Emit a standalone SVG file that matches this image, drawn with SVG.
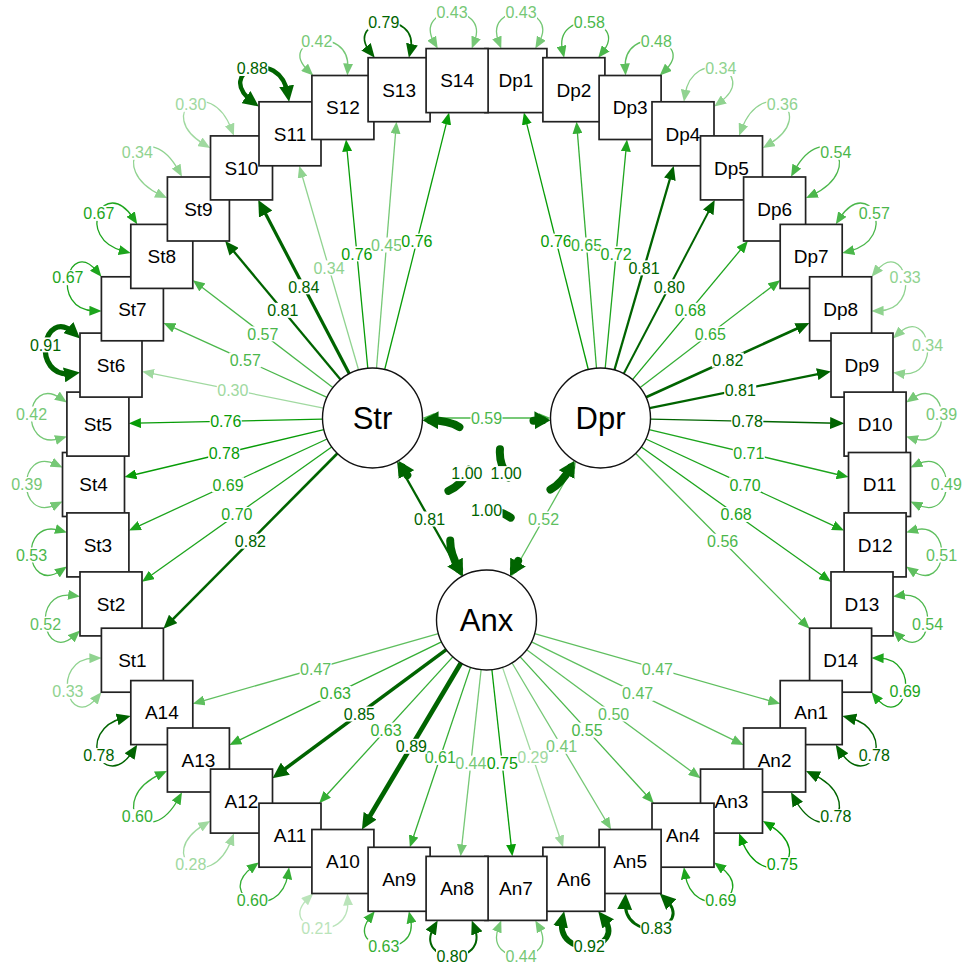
<svg xmlns="http://www.w3.org/2000/svg" width="965" height="966" viewBox="0 0 965 966">
<style>
.e{fill:none;stroke-width:1.3}
.d{stroke:#006400}
.k21{stroke:#BAE4BA}.k29{stroke:#A0D9A0}.k34{stroke:#90D390}.k42{stroke:#76C876}.k49{stroke:#5FBF5F}.k55{stroke:#4BB74B}.k62{stroke:#34AE34}.k69{stroke:#1DA51D}.k76{stroke:#079C07}
.f21{fill:#BAE4BA}.f29{fill:#A0D9A0}.f34{fill:#90D390}.f42{fill:#76C876}.f49{fill:#5FBF5F}.f55{fill:#4BB74B}.f62{fill:#34AE34}.f69{fill:#1DA51D}.f76{fill:#079C07}.fd{fill:#006400}
.lab rect{fill:#fff}
.lab text{font-family:"Liberation Sans",Arial,sans-serif;font-size:16px;text-anchor:middle}
.v{fill:none;stroke:#006400;stroke-width:8;stroke-dasharray:30 48;stroke-linecap:round}
.b{fill:#fff;stroke:#222;stroke-width:1.7}
.n{font-family:"Liberation Sans",Arial,sans-serif;font-size:19px;text-anchor:middle;fill:#000}
.lv{fill:#fff;stroke:#111;stroke-width:1.4}
.lt{font-family:"Liberation Sans",Arial,sans-serif;font-size:31px;text-anchor:middle;fill:#000}
</style>
<defs>
<marker id="m21" markerUnits="userSpaceOnUse" orient="auto-start-reverse" refX="5" refY="5" markerWidth="12" markerHeight="10"><path d="M0,0L12,5L0,10z" fill="#BAE4BA"/></marker>
<marker id="m29" markerUnits="userSpaceOnUse" orient="auto-start-reverse" refX="5" refY="5" markerWidth="12" markerHeight="10"><path d="M0,0L12,5L0,10z" fill="#A0D9A0"/></marker>
<marker id="m34" markerUnits="userSpaceOnUse" orient="auto-start-reverse" refX="5" refY="5" markerWidth="12" markerHeight="10"><path d="M0,0L12,5L0,10z" fill="#90D390"/></marker>
<marker id="m42" markerUnits="userSpaceOnUse" orient="auto-start-reverse" refX="5" refY="5" markerWidth="12" markerHeight="10"><path d="M0,0L12,5L0,10z" fill="#76C876"/></marker>
<marker id="m49" markerUnits="userSpaceOnUse" orient="auto-start-reverse" refX="5" refY="5" markerWidth="12" markerHeight="10"><path d="M0,0L12,5L0,10z" fill="#5FBF5F"/></marker>
<marker id="m55" markerUnits="userSpaceOnUse" orient="auto-start-reverse" refX="5" refY="5" markerWidth="12" markerHeight="10"><path d="M0,0L12,5L0,10z" fill="#4BB74B"/></marker>
<marker id="m62" markerUnits="userSpaceOnUse" orient="auto-start-reverse" refX="5" refY="5" markerWidth="12" markerHeight="10"><path d="M0,0L12,5L0,10z" fill="#34AE34"/></marker>
<marker id="m69" markerUnits="userSpaceOnUse" orient="auto-start-reverse" refX="5" refY="5" markerWidth="12" markerHeight="10"><path d="M0,0L12,5L0,10z" fill="#1DA51D"/></marker>
<marker id="m76" markerUnits="userSpaceOnUse" orient="auto-start-reverse" refX="5" refY="5" markerWidth="12" markerHeight="10"><path d="M0,0L12,5L0,10z" fill="#079C07"/></marker>
<marker id="md" markerUnits="userSpaceOnUse" orient="auto-start-reverse" refX="7" refY="6" markerWidth="14" markerHeight="12"><path d="M0,0L14,6L0,12z" fill="#006400"/></marker>
<marker id="mL" markerUnits="userSpaceOnUse" orient="auto-start-reverse" refX="9" refY="7.5" markerWidth="16" markerHeight="15"><path d="M0,0L16,7.5L0,15z" fill="#006400"/></marker>
<marker id="mx" markerUnits="userSpaceOnUse" orient="auto-start-reverse" refX="8" refY="9" markerWidth="16" markerHeight="18"><path d="M0,0L16,9L0,18z" fill="#006400"/></marker>
</defs>
<rect width="965" height="966" fill="#fff"/>
<g id="connectors">
<!-- Str loadings -->
<line class="e d" style="stroke-width:2.6" x1="337.3" y1="453.5" x2="168.3" y2="623.9" marker-end="url(#md)"/>
<line class="e k69" x1="331.7" y1="447.0" x2="147.7" y2="577.8" marker-end="url(#m69)"/>
<line class="e k69" x1="327.1" y1="439.0" x2="135.3" y2="527.6" marker-end="url(#m69)"/>
<line class="e k76" x1="323.9" y1="429.6" x2="131.3" y2="475.5" marker-end="url(#m76)"/>
<line class="e k76" x1="322.5" y1="419.1" x2="135.9" y2="423.2" marker-end="url(#m76)"/>
<line class="e k29" x1="323.5" y1="408.1" x2="148.9" y2="372.8" marker-end="url(#m29)"/>
<line class="e k55" x1="327.0" y1="397.3" x2="169.8" y2="325.8" marker-end="url(#m55)"/>
<line class="e k55" x1="332.8" y1="387.6" x2="198.4" y2="284.4" marker-end="url(#m55)"/>
<line class="e d" style="stroke-width:2.3" x1="340.5" y1="379.6" x2="229.6" y2="246.4" marker-end="url(#md)"/>
<line class="e d" style="stroke-width:3.2" x1="349.3" y1="373.7" x2="261.5" y2="206.1" marker-end="url(#mL)"/>
<line class="e k34" x1="358.6" y1="370.0" x2="301.2" y2="172.5" marker-end="url(#m34)"/>
<line class="e k76" x1="367.8" y1="368.2" x2="346.7" y2="146.5" marker-end="url(#m76)"/>
<line class="e k42" x1="376.5" y1="368.2" x2="395.9" y2="128.7" marker-end="url(#m42)"/>
<line class="e k76" x1="384.7" y1="369.5" x2="447.4" y2="119.4" marker-end="url(#m76)"/>
<!-- Dpr loadings -->
<line class="e k76" x1="588.3" y1="369.5" x2="525.6" y2="119.4" marker-end="url(#m76)"/>
<line class="e k62" x1="596.5" y1="368.2" x2="577.1" y2="128.7" marker-end="url(#m62)"/>
<line class="e k69" x1="605.2" y1="368.2" x2="626.3" y2="146.5" marker-end="url(#m69)"/>
<line class="e d" style="stroke-width:2.3" x1="614.4" y1="370.0" x2="671.8" y2="172.5" marker-end="url(#md)"/>
<line class="e d" style="stroke-width:2.0" x1="623.7" y1="373.7" x2="711.5" y2="206.1" marker-end="url(#md)"/>
<line class="e k69" x1="632.5" y1="379.6" x2="743.4" y2="246.4" marker-end="url(#m69)"/>
<line class="e k62" x1="640.2" y1="387.6" x2="774.6" y2="284.4" marker-end="url(#m62)"/>
<line class="e d" style="stroke-width:2.6" x1="646.0" y1="397.3" x2="803.2" y2="325.8" marker-end="url(#md)"/>
<line class="e d" style="stroke-width:2.3" x1="649.5" y1="408.1" x2="824.1" y2="372.8" marker-end="url(#md)"/>
<line class="e d" style="stroke-width:1.4" x1="650.5" y1="419.1" x2="837.1" y2="423.2" marker-end="url(#md)"/>
<line class="e k69" x1="649.1" y1="429.6" x2="841.7" y2="475.5" marker-end="url(#m69)"/>
<line class="e k69" x1="645.9" y1="439.0" x2="837.7" y2="527.6" marker-end="url(#m69)"/>
<line class="e k69" x1="641.3" y1="447.0" x2="825.3" y2="577.8" marker-end="url(#m69)"/>
<line class="e k55" x1="635.7" y1="453.5" x2="804.7" y2="623.9" marker-end="url(#m55)"/>
<!-- Anx loadings -->
<line class="e k49" x1="534.6" y1="633.7" x2="773.5" y2="701.8" marker-end="url(#m49)"/>
<line class="e k49" x1="531.5" y1="641.9" x2="737.3" y2="741.9" marker-end="url(#m49)"/>
<line class="e k49" x1="526.7" y1="649.7" x2="694.9" y2="774.0" marker-end="url(#m49)"/>
<line class="e k55" x1="520.2" y1="656.9" x2="649.1" y2="798.0" marker-end="url(#m55)"/>
<line class="e k42" x1="512.1" y1="663.0" x2="607.5" y2="823.5" marker-end="url(#m42)"/>
<line class="e k29" x1="502.5" y1="667.4" x2="560.9" y2="840.7" marker-end="url(#m29)"/>
<line class="e k76" x1="491.9" y1="669.7" x2="511.6" y2="849.4" marker-end="url(#m76)"/>
<line class="e k42" x1="481.1" y1="669.7" x2="461.4" y2="849.4" marker-end="url(#m42)"/>
<line class="e k62" x1="470.5" y1="667.4" x2="412.1" y2="840.7" marker-end="url(#m62)"/>
<line class="e d" style="stroke-width:4.7" x1="460.9" y1="663.0" x2="365.5" y2="823.5" marker-end="url(#mL)"/>
<line class="e k62" x1="452.8" y1="656.9" x2="323.9" y2="798.0" marker-end="url(#m62)"/>
<line class="e d" style="stroke-width:3.5" x1="446.3" y1="649.7" x2="278.1" y2="774.0" marker-end="url(#mL)"/>
<line class="e k62" x1="441.5" y1="641.9" x2="235.7" y2="741.9" marker-end="url(#m62)"/>
<line class="e k49" x1="438.4" y1="633.7" x2="199.5" y2="701.8" marker-end="url(#m49)"/>
<!-- latent covariances -->
<line class="e k55" x1="429.5" y1="418" x2="543.5" y2="418" marker-start="url(#m55)" marker-end="url(#m55)"/>
<line class="e d" style="stroke-width:2.3" x1="400.5" y1="467.7" x2="458.5" y2="570.3" marker-start="url(#md)" marker-end="url(#md)"/>
<line class="e k49" x1="572.5" y1="467.7" x2="514.5" y2="570.3" marker-start="url(#m49)" marker-end="url(#m49)"/>
<!-- latent variances -->
<path class="v" d="M430.5,420.3C520.5,421.1 446.9,545.9 402.5,467.6" marker-start="url(#mx)" marker-end="url(#mx)"/>
<path class="v" d="M570.5,467.6C526.1,545.9 452.5,421.1 542.5,420.3" marker-start="url(#mx)" marker-end="url(#mx)"/>
<path class="v" d="M459,569C414,491 559,491 514,569" marker-start="url(#mx)" marker-end="url(#mx)"/>
<!-- residual loops -->
<path class="e k49" d="M916.8,464.5C956.5,445.4 956.5,523.6 916.8,504.5" marker-start="url(#m49)" marker-end="url(#m49)"/>
<path class="e k42" d="M911.9,398.5C948.2,373.7 954.8,451.4 912.8,438.5" marker-start="url(#m42)" marker-end="url(#m42)"/>
<path class="e k34" d="M898.1,333.7C930.4,303.8 943.4,380.1 899.9,373.5" marker-start="url(#m34)" marker-end="url(#m34)"/>
<path class="e k34" d="M876.0,271.4C904.7,236.2 923.9,310.1 878.6,310.9" marker-start="url(#m34)" marker-end="url(#m34)"/>
<path class="e k55" d="M839.6,218.3C868.7,174.1 899.7,238.6 849.1,251.3" marker-start="url(#m55)" marker-end="url(#m55)"/>
<path class="e k55" d="M794.4,170.5C824.5,115.8 868.4,168.5 812.3,195.1" marker-start="url(#m55)" marker-end="url(#m55)"/>
<path class="e k34" d="M741.6,129.1C762.8,73.9 819.9,113.0 768.8,144.4" marker-start="url(#m34)" marker-end="url(#m34)"/>
<path class="e k34" d="M685.0,94.8C692.9,45.2 760.7,71.9 719.8,102.4" marker-start="url(#m34)" marker-end="url(#m34)"/>
<path class="e k49" d="M625.2,68.5C622.4,23.3 697.6,39.5 664.8,70.7" marker-start="url(#m49)" marker-end="url(#m49)"/>
<path class="e k55" d="M562.6,50.9C552.9,8.0 630.0,17.8 602.6,52.2" marker-start="url(#m55)" marker-end="url(#m55)"/>
<path class="e k42" d="M498.7,42.1C482.7,1.1 560.8,4.4 538.8,42.5" marker-start="url(#m42)" marker-end="url(#m42)"/>
<path class="e k42" d="M56.2,464.5C16.5,445.4 16.5,523.6 56.2,504.5" marker-start="url(#m42)" marker-end="url(#m42)"/>
<path class="e k42" d="M61.1,398.5C24.8,373.7 18.2,451.4 60.2,438.5" marker-start="url(#m42)" marker-end="url(#m42)"/>
<path class="e d" style="stroke-width:5.3" d="M74.9,333.7C42.6,303.8 29.6,380.1 73.1,373.5" marker-start="url(#mL)" marker-end="url(#mL)"/>
<path class="e k69" d="M97.0,271.4C68.3,236.2 49.1,310.1 94.4,310.9" marker-start="url(#m69)" marker-end="url(#m69)"/>
<path class="e k69" d="M133.4,218.3C104.3,174.1 73.3,238.6 123.9,251.3" marker-start="url(#m69)" marker-end="url(#m69)"/>
<path class="e k34" d="M178.6,170.5C148.5,115.8 104.6,168.5 160.7,195.1" marker-start="url(#m34)" marker-end="url(#m34)"/>
<path class="e k29" d="M231.4,129.1C210.2,73.9 153.1,113.0 204.2,144.4" marker-start="url(#m29)" marker-end="url(#m29)"/>
<path class="e d" style="stroke-width:4.4" d="M288.0,94.8C280.1,45.2 212.3,71.9 253.2,102.4" marker-start="url(#mL)" marker-end="url(#mL)"/>
<path class="e k42" d="M347.8,68.5C350.6,23.3 275.4,39.5 308.2,70.7" marker-start="url(#m42)" marker-end="url(#m42)"/>
<path class="e d" style="stroke-width:1.7" d="M410.4,50.9C420.1,8.0 343.0,17.8 370.4,52.2" marker-start="url(#md)" marker-end="url(#md)"/>
<path class="e k42" d="M474.3,42.1C490.3,1.1 412.2,4.4 434.2,42.5" marker-start="url(#m42)" marker-end="url(#m42)"/>
<path class="e k49" d="M911.9,570.5C948.2,595.3 954.8,517.6 912.8,530.5" marker-start="url(#m49)" marker-end="url(#m49)"/>
<path class="e k55" d="M898.1,635.3C930.4,665.2 943.4,588.9 899.9,595.5" marker-start="url(#m55)" marker-end="url(#m55)"/>
<path class="e k69" d="M876.0,697.6C904.7,732.8 923.9,658.9 878.6,658.1" marker-start="url(#m69)" marker-end="url(#m69)"/>
<path class="e d" style="stroke-width:1.4" d="M839.6,750.7C868.7,794.9 899.7,730.4 849.1,717.7" marker-start="url(#md)" marker-end="url(#md)"/>
<path class="e d" style="stroke-width:1.4" d="M794.4,798.5C824.5,853.2 868.4,800.5 812.3,773.9" marker-start="url(#md)" marker-end="url(#md)"/>
<path class="e k76" d="M741.6,839.9C762.8,895.1 819.9,856.0 768.8,824.6" marker-start="url(#m76)" marker-end="url(#m76)"/>
<path class="e k69" d="M685.0,874.2C692.9,923.8 760.7,897.1 719.8,866.6" marker-start="url(#m69)" marker-end="url(#m69)"/>
<path class="e d" style="stroke-width:2.9" d="M625.2,900.5C622.4,945.7 697.6,929.5 664.8,898.3" marker-start="url(#mL)" marker-end="url(#mL)"/>
<path class="e d" style="stroke-width:5.6" d="M562.6,918.1C552.9,961.0 630.0,951.2 602.6,916.8" marker-start="url(#mL)" marker-end="url(#mL)"/>
<path class="e k42" d="M498.7,926.9C482.7,967.9 560.8,964.6 538.8,926.5" marker-start="url(#m42)" marker-end="url(#m42)"/>
<path class="e k55" d="M61.1,570.5C24.8,595.3 18.2,517.6 60.2,530.5" marker-start="url(#m55)" marker-end="url(#m55)"/>
<path class="e k49" d="M74.9,635.3C42.6,665.2 29.6,588.9 73.1,595.5" marker-start="url(#m49)" marker-end="url(#m49)"/>
<path class="e k34" d="M97.0,697.6C68.3,732.8 49.1,658.9 94.4,658.1" marker-start="url(#m34)" marker-end="url(#m34)"/>
<path class="e d" style="stroke-width:1.4" d="M133.4,750.7C104.3,794.9 73.3,730.4 123.9,717.7" marker-start="url(#md)" marker-end="url(#md)"/>
<path class="e k62" d="M178.6,798.5C148.5,853.2 104.6,800.5 160.7,773.9" marker-start="url(#m62)" marker-end="url(#m62)"/>
<path class="e k29" d="M231.4,839.9C210.2,895.1 153.1,856.0 204.2,824.6" marker-start="url(#m29)" marker-end="url(#m29)"/>
<path class="e k62" d="M288.0,874.2C280.1,923.8 212.3,897.1 253.2,866.6" marker-start="url(#m62)" marker-end="url(#m62)"/>
<path class="e k21" d="M347.8,900.5C350.6,945.7 275.4,929.5 308.2,898.3" marker-start="url(#m21)" marker-end="url(#m21)"/>
<path class="e k62" d="M410.4,918.1C420.1,961.0 343.0,951.2 370.4,916.8" marker-start="url(#m62)" marker-end="url(#m62)"/>
<path class="e d" style="stroke-width:2.0" d="M474.3,926.9C490.3,967.9 412.2,964.6 434.2,926.5" marker-start="url(#md)" marker-end="url(#md)"/>
<!-- labels -->
<g class="lab" transform="translate(250.4 541.2)"><rect x="-16" y="-7.5" width="32" height="15"/><text class="fd" y="5.7">0.82</text></g>
<g class="lab" transform="translate(236.9 514.5)"><rect x="-16" y="-7.5" width="32" height="15"/><text class="f69" y="5.7">0.70</text></g>
<g class="lab" transform="translate(228.0 484.8)"><rect x="-16" y="-7.5" width="32" height="15"/><text class="f69" y="5.7">0.69</text></g>
<g class="lab" transform="translate(224.2 453.4)"><rect x="-16" y="-7.5" width="32" height="15"/><text class="f76" y="5.7">0.78</text></g>
<g class="lab" transform="translate(225.7 421.3)"><rect x="-16" y="-7.5" width="32" height="15"/><text class="f76" y="5.7">0.76</text></g>
<g class="lab" transform="translate(232.8 389.8)"><rect x="-16" y="-7.5" width="32" height="15"/><text class="f29" y="5.7">0.30</text></g>
<g class="lab" transform="translate(245.2 360.1)"><rect x="-16" y="-7.5" width="32" height="15"/><text class="f55" y="5.7">0.57</text></g>
<g class="lab" transform="translate(262.8 333.9)"><rect x="-16" y="-7.5" width="32" height="15"/><text class="f55" y="5.7">0.57</text></g>
<g class="lab" transform="translate(282.8 310.3)"><rect x="-16" y="-7.5" width="32" height="15"/><text class="fd" y="5.7">0.81</text></g>
<g class="lab" transform="translate(303.8 286.8)"><rect x="-16" y="-7.5" width="32" height="15"/><text class="fd" y="5.7">0.84</text></g>
<g class="lab" transform="translate(329.0 267.9)"><rect x="-16" y="-7.5" width="32" height="15"/><text class="f34" y="5.7">0.34</text></g>
<g class="lab" transform="translate(356.9 253.9)"><rect x="-16" y="-7.5" width="32" height="15"/><text class="f76" y="5.7">0.76</text></g>
<g class="lab" transform="translate(386.5 245.0)"><rect x="-16" y="-7.5" width="32" height="15"/><text class="f42" y="5.7">0.45</text></g>
<g class="lab" transform="translate(416.9 241.1)"><rect x="-16" y="-7.5" width="32" height="15"/><text class="f76" y="5.7">0.76</text></g>
<g class="lab" transform="translate(556.1 241.1)"><rect x="-16" y="-7.5" width="32" height="15"/><text class="f76" y="5.7">0.76</text></g>
<g class="lab" transform="translate(586.5 245.0)"><rect x="-16" y="-7.5" width="32" height="15"/><text class="f62" y="5.7">0.65</text></g>
<g class="lab" transform="translate(616.1 253.9)"><rect x="-16" y="-7.5" width="32" height="15"/><text class="f69" y="5.7">0.72</text></g>
<g class="lab" transform="translate(644.0 267.9)"><rect x="-16" y="-7.5" width="32" height="15"/><text class="fd" y="5.7">0.81</text></g>
<g class="lab" transform="translate(669.2 286.8)"><rect x="-16" y="-7.5" width="32" height="15"/><text class="fd" y="5.7">0.80</text></g>
<g class="lab" transform="translate(690.2 310.3)"><rect x="-16" y="-7.5" width="32" height="15"/><text class="f69" y="5.7">0.68</text></g>
<g class="lab" transform="translate(710.2 333.9)"><rect x="-16" y="-7.5" width="32" height="15"/><text class="f62" y="5.7">0.65</text></g>
<g class="lab" transform="translate(727.8 360.1)"><rect x="-16" y="-7.5" width="32" height="15"/><text class="fd" y="5.7">0.82</text></g>
<g class="lab" transform="translate(740.2 389.8)"><rect x="-16" y="-7.5" width="32" height="15"/><text class="fd" y="5.7">0.81</text></g>
<g class="lab" transform="translate(747.3 421.3)"><rect x="-16" y="-7.5" width="32" height="15"/><text class="fd" y="5.7">0.78</text></g>
<g class="lab" transform="translate(748.8 453.4)"><rect x="-16" y="-7.5" width="32" height="15"/><text class="f69" y="5.7">0.71</text></g>
<g class="lab" transform="translate(745.0 484.8)"><rect x="-16" y="-7.5" width="32" height="15"/><text class="f69" y="5.7">0.70</text></g>
<g class="lab" transform="translate(736.1 514.5)"><rect x="-16" y="-7.5" width="32" height="15"/><text class="f69" y="5.7">0.68</text></g>
<g class="lab" transform="translate(722.6 541.2)"><rect x="-16" y="-7.5" width="32" height="15"/><text class="f55" y="5.7">0.56</text></g>
<g class="lab" transform="translate(657.4 668.8)"><rect x="-16" y="-7.5" width="32" height="15"/><text class="f49" y="5.7">0.47</text></g>
<g class="lab" transform="translate(637.6 693.4)"><rect x="-16" y="-7.5" width="32" height="15"/><text class="f49" y="5.7">0.47</text></g>
<g class="lab" transform="translate(613.6 714.0)"><rect x="-16" y="-7.5" width="32" height="15"/><text class="f49" y="5.7">0.50</text></g>
<g class="lab" transform="translate(587.0 730.1)"><rect x="-16" y="-7.5" width="32" height="15"/><text class="f55" y="5.7">0.55</text></g>
<g class="lab" transform="translate(561.6 746.3)"><rect x="-16" y="-7.5" width="32" height="15"/><text class="f42" y="5.7">0.41</text></g>
<g class="lab" transform="translate(532.8 757.4)"><rect x="-16" y="-7.5" width="32" height="15"/><text class="f29" y="5.7">0.29</text></g>
<g class="lab" transform="translate(502.2 763.1)"><rect x="-16" y="-7.5" width="32" height="15"/><text class="f76" y="5.7">0.75</text></g>
<g class="lab" transform="translate(470.8 763.1)"><rect x="-16" y="-7.5" width="32" height="15"/><text class="f42" y="5.7">0.44</text></g>
<g class="lab" transform="translate(440.2 757.4)"><rect x="-16" y="-7.5" width="32" height="15"/><text class="f62" y="5.7">0.61</text></g>
<g class="lab" transform="translate(411.4 746.3)"><rect x="-16" y="-7.5" width="32" height="15"/><text class="fd" y="5.7">0.89</text></g>
<g class="lab" transform="translate(386.0 730.1)"><rect x="-16" y="-7.5" width="32" height="15"/><text class="f62" y="5.7">0.63</text></g>
<g class="lab" transform="translate(359.4 714.0)"><rect x="-16" y="-7.5" width="32" height="15"/><text class="fd" y="5.7">0.85</text></g>
<g class="lab" transform="translate(335.4 693.4)"><rect x="-16" y="-7.5" width="32" height="15"/><text class="f62" y="5.7">0.63</text></g>
<g class="lab" transform="translate(315.6 668.8)"><rect x="-16" y="-7.5" width="32" height="15"/><text class="f49" y="5.7">0.47</text></g>
<g class="lab" transform="translate(486.5 418)"><rect x="-16" y="-7.5" width="32" height="15"/><text class="f55" y="5.7">0.59</text></g>
<g class="lab" transform="translate(429.5 519)"><rect x="-16" y="-7.5" width="32" height="15"/><text class="fd" y="5.7">0.81</text></g>
<g class="lab" transform="translate(543.5 519)"><rect x="-16" y="-7.5" width="32" height="15"/><text class="f49" y="5.7">0.52</text></g>
<g class="lab" transform="translate(466.9 473.6)"><rect x="-16" y="-7.5" width="32" height="15"/><text class="fd" y="5.7">1.00</text></g>
<g class="lab" transform="translate(506.1 473.6)"><rect x="-16" y="-7.5" width="32" height="15"/><text class="fd" y="5.7">1.00</text></g>
<g class="lab" transform="translate(486.5 510.5)"><rect x="-16" y="-7.5" width="32" height="15"/><text class="fd" y="5.7">1.00</text></g>
<g class="lab" transform="translate(946.3 484.5)"><rect x="-16" y="-7.5" width="32" height="15"/><text class="f49" y="5.7">0.49</text></g>
<g class="lab" transform="translate(941.5 414.0)"><rect x="-16" y="-7.5" width="32" height="15"/><text class="f42" y="5.7">0.39</text></g>
<g class="lab" transform="translate(927.5 344.9)"><rect x="-16" y="-7.5" width="32" height="15"/><text class="f34" y="5.7">0.34</text></g>
<g class="lab" transform="translate(905.1 277.7)"><rect x="-16" y="-7.5" width="32" height="15"/><text class="f34" y="5.7">0.33</text></g>
<g class="lab" transform="translate(874.2 213.4)"><rect x="-16" y="-7.5" width="32" height="15"/><text class="f55" y="5.7">0.57</text></g>
<g class="lab" transform="translate(835.7 152.3)"><rect x="-16" y="-7.5" width="32" height="15"/><text class="f55" y="5.7">0.54</text></g>
<g class="lab" transform="translate(782.3 104.3)"><rect x="-16" y="-7.5" width="32" height="15"/><text class="f34" y="5.7">0.36</text></g>
<g class="lab" transform="translate(720.7 68.5)"><rect x="-16" y="-7.5" width="32" height="15"/><text class="f34" y="5.7">0.34</text></g>
<g class="lab" transform="translate(656.3 40.9)"><rect x="-16" y="-7.5" width="32" height="15"/><text class="f49" y="5.7">0.48</text></g>
<g class="lab" transform="translate(589.3 22.4)"><rect x="-16" y="-7.5" width="32" height="15"/><text class="f55" y="5.7">0.58</text></g>
<g class="lab" transform="translate(521.0 12.7)"><rect x="-16" y="-7.5" width="32" height="15"/><text class="f42" y="5.7">0.43</text></g>
<g class="lab" transform="translate(26.7 484.5)"><rect x="-16" y="-7.5" width="32" height="15"/><text class="f42" y="5.7">0.39</text></g>
<g class="lab" transform="translate(31.5 414.0)"><rect x="-16" y="-7.5" width="32" height="15"/><text class="f42" y="5.7">0.42</text></g>
<g class="lab" transform="translate(45.5 344.9)"><rect x="-16" y="-7.5" width="32" height="15"/><text class="fd" y="5.7">0.91</text></g>
<g class="lab" transform="translate(67.9 277.7)"><rect x="-16" y="-7.5" width="32" height="15"/><text class="f69" y="5.7">0.67</text></g>
<g class="lab" transform="translate(98.8 213.4)"><rect x="-16" y="-7.5" width="32" height="15"/><text class="f69" y="5.7">0.67</text></g>
<g class="lab" transform="translate(137.3 152.3)"><rect x="-16" y="-7.5" width="32" height="15"/><text class="f34" y="5.7">0.34</text></g>
<g class="lab" transform="translate(190.7 104.3)"><rect x="-16" y="-7.5" width="32" height="15"/><text class="f29" y="5.7">0.30</text></g>
<g class="lab" transform="translate(252.3 68.5)"><rect x="-16" y="-7.5" width="32" height="15"/><text class="fd" y="5.7">0.88</text></g>
<g class="lab" transform="translate(316.7 40.9)"><rect x="-16" y="-7.5" width="32" height="15"/><text class="f42" y="5.7">0.42</text></g>
<g class="lab" transform="translate(383.7 22.4)"><rect x="-16" y="-7.5" width="32" height="15"/><text class="fd" y="5.7">0.79</text></g>
<g class="lab" transform="translate(452.0 12.7)"><rect x="-16" y="-7.5" width="32" height="15"/><text class="f42" y="5.7">0.43</text></g>
<g class="lab" transform="translate(941.5 555.0)"><rect x="-16" y="-7.5" width="32" height="15"/><text class="f49" y="5.7">0.51</text></g>
<g class="lab" transform="translate(927.5 624.1)"><rect x="-16" y="-7.5" width="32" height="15"/><text class="f55" y="5.7">0.54</text></g>
<g class="lab" transform="translate(905.1 691.3)"><rect x="-16" y="-7.5" width="32" height="15"/><text class="f69" y="5.7">0.69</text></g>
<g class="lab" transform="translate(874.2 755.6)"><rect x="-16" y="-7.5" width="32" height="15"/><text class="fd" y="5.7">0.78</text></g>
<g class="lab" transform="translate(835.7 816.7)"><rect x="-16" y="-7.5" width="32" height="15"/><text class="fd" y="5.7">0.78</text></g>
<g class="lab" transform="translate(782.3 864.7)"><rect x="-16" y="-7.5" width="32" height="15"/><text class="f76" y="5.7">0.75</text></g>
<g class="lab" transform="translate(720.7 900.5)"><rect x="-16" y="-7.5" width="32" height="15"/><text class="f69" y="5.7">0.69</text></g>
<g class="lab" transform="translate(656.3 928.1)"><rect x="-16" y="-7.5" width="32" height="15"/><text class="fd" y="5.7">0.83</text></g>
<g class="lab" transform="translate(589.3 946.6)"><rect x="-16" y="-7.5" width="32" height="15"/><text class="fd" y="5.7">0.92</text></g>
<g class="lab" transform="translate(521.0 956.3)"><rect x="-16" y="-7.5" width="32" height="15"/><text class="f42" y="5.7">0.44</text></g>
<g class="lab" transform="translate(31.5 555.0)"><rect x="-16" y="-7.5" width="32" height="15"/><text class="f55" y="5.7">0.53</text></g>
<g class="lab" transform="translate(45.5 624.1)"><rect x="-16" y="-7.5" width="32" height="15"/><text class="f49" y="5.7">0.52</text></g>
<g class="lab" transform="translate(67.9 691.3)"><rect x="-16" y="-7.5" width="32" height="15"/><text class="f34" y="5.7">0.33</text></g>
<g class="lab" transform="translate(98.8 755.6)"><rect x="-16" y="-7.5" width="32" height="15"/><text class="fd" y="5.7">0.78</text></g>
<g class="lab" transform="translate(137.3 816.7)"><rect x="-16" y="-7.5" width="32" height="15"/><text class="f62" y="5.7">0.60</text></g>
<g class="lab" transform="translate(190.7 864.7)"><rect x="-16" y="-7.5" width="32" height="15"/><text class="f29" y="5.7">0.28</text></g>
<g class="lab" transform="translate(252.3 900.5)"><rect x="-16" y="-7.5" width="32" height="15"/><text class="f62" y="5.7">0.60</text></g>
<g class="lab" transform="translate(316.7 928.1)"><rect x="-16" y="-7.5" width="32" height="15"/><text class="f21" y="5.7">0.21</text></g>
<g class="lab" transform="translate(383.7 946.6)"><rect x="-16" y="-7.5" width="32" height="15"/><text class="f62" y="5.7">0.63</text></g>
<g class="lab" transform="translate(452.0 956.3)"><rect x="-16" y="-7.5" width="32" height="15"/><text class="fd" y="5.7">0.80</text></g>
</g>
<g id="nodes">
<g id="Dp1"><rect class="b" x="484.9" y="48.6" width="62" height="64"/><text class="n" x="515.9" y="87.4">Dp1</text></g>
<g id="Dp2"><rect class="b" x="542.9" y="57.7" width="62" height="64"/><text class="n" x="573.9" y="96.5">Dp2</text></g>
<g id="Dp3"><rect class="b" x="599.1" y="75.5" width="62" height="64"/><text class="n" x="630.1" y="114.3">Dp3</text></g>
<g id="Dp4"><rect class="b" x="652.0" y="101.8" width="62" height="64"/><text class="n" x="683.0" y="140.6">Dp4</text></g>
<g id="Dp5"><rect class="b" x="700.5" y="135.9" width="62" height="64"/><text class="n" x="731.5" y="174.7">Dp5</text></g>
<g id="Dp6"><rect class="b" x="743.6" y="177.0" width="62" height="64"/><text class="n" x="774.6" y="215.8">Dp6</text></g>
<g id="Dp7"><rect class="b" x="780.2" y="224.4" width="62" height="64"/><text class="n" x="811.2" y="263.2">Dp7</text></g>
<g id="Dp8"><rect class="b" x="809.6" y="276.8" width="62" height="64"/><text class="n" x="840.6" y="315.6">Dp8</text></g>
<g id="Dp9"><rect class="b" x="831.0" y="333.1" width="62" height="64"/><text class="n" x="862.0" y="371.9">Dp9</text></g>
<g id="D10"><rect class="b" x="844.1" y="392.1" width="62" height="64"/><text class="n" x="875.1" y="430.9">D10</text></g>
<g id="D11"><rect class="b" x="848.5" y="452.5" width="62" height="64"/><text class="n" x="879.5" y="491.3">D11</text></g>
<g id="D12"><rect class="b" x="844.1" y="512.9" width="62" height="64"/><text class="n" x="875.1" y="551.7">D12</text></g>
<g id="D13"><rect class="b" x="831.0" y="571.9" width="62" height="64"/><text class="n" x="862.0" y="610.7">D13</text></g>
<g id="D14"><rect class="b" x="809.6" y="628.2" width="62" height="64"/><text class="n" x="840.6" y="667.0">D14</text></g>
<g id="An1"><rect class="b" x="780.2" y="680.6" width="62" height="64"/><text class="n" x="811.2" y="719.4">An1</text></g>
<g id="An2"><rect class="b" x="743.6" y="728.0" width="62" height="64"/><text class="n" x="774.6" y="766.8">An2</text></g>
<g id="An3"><rect class="b" x="700.5" y="769.1" width="62" height="64"/><text class="n" x="731.5" y="807.9">An3</text></g>
<g id="An4"><rect class="b" x="652.0" y="803.2" width="62" height="64"/><text class="n" x="683.0" y="842.0">An4</text></g>
<g id="An5"><rect class="b" x="599.1" y="829.5" width="62" height="64"/><text class="n" x="630.1" y="868.3">An5</text></g>
<g id="An6"><rect class="b" x="542.9" y="847.3" width="62" height="64"/><text class="n" x="573.9" y="886.1">An6</text></g>
<g id="An7"><rect class="b" x="484.9" y="856.4" width="62" height="64"/><text class="n" x="515.9" y="895.2">An7</text></g>
<g id="St4"><rect class="b" x="62.5" y="452.5" width="62" height="64"/><text class="n" x="93.5" y="491.3">St4</text></g>
<g id="St3"><rect class="b" x="66.9" y="512.9" width="62" height="64"/><text class="n" x="97.9" y="551.7">St3</text></g>
<g id="St2"><rect class="b" x="80.0" y="571.9" width="62" height="64"/><text class="n" x="111.0" y="610.7">St2</text></g>
<g id="St1"><rect class="b" x="101.4" y="628.2" width="62" height="64"/><text class="n" x="132.4" y="667.0">St1</text></g>
<g id="A14"><rect class="b" x="130.8" y="680.6" width="62" height="64"/><text class="n" x="161.8" y="719.4">A14</text></g>
<g id="A13"><rect class="b" x="167.4" y="728.0" width="62" height="64"/><text class="n" x="198.4" y="766.8">A13</text></g>
<g id="A12"><rect class="b" x="210.5" y="769.1" width="62" height="64"/><text class="n" x="241.5" y="807.9">A12</text></g>
<g id="A11"><rect class="b" x="259.0" y="803.2" width="62" height="64"/><text class="n" x="290.0" y="842.0">A11</text></g>
<g id="A10"><rect class="b" x="311.9" y="829.5" width="62" height="64"/><text class="n" x="342.9" y="868.3">A10</text></g>
<g id="An9"><rect class="b" x="368.1" y="847.3" width="62" height="64"/><text class="n" x="399.1" y="886.1">An9</text></g>
<g id="An8"><rect class="b" x="426.1" y="856.4" width="62" height="64"/><text class="n" x="457.1" y="895.2">An8</text></g>
<g id="St5"><rect class="b" x="66.9" y="392.1" width="62" height="64"/><text class="n" x="97.9" y="430.9">St5</text></g>
<g id="St6"><rect class="b" x="80.0" y="333.1" width="62" height="64"/><text class="n" x="111.0" y="371.9">St6</text></g>
<g id="St7"><rect class="b" x="101.4" y="276.8" width="62" height="64"/><text class="n" x="132.4" y="315.6">St7</text></g>
<g id="St8"><rect class="b" x="130.8" y="224.4" width="62" height="64"/><text class="n" x="161.8" y="263.2">St8</text></g>
<g id="St9"><rect class="b" x="167.4" y="177.0" width="62" height="64"/><text class="n" x="198.4" y="215.8">St9</text></g>
<g id="S10"><rect class="b" x="210.5" y="135.9" width="62" height="64"/><text class="n" x="241.5" y="174.7">S10</text></g>
<g id="S11"><rect class="b" x="259.0" y="101.8" width="62" height="64"/><text class="n" x="290.0" y="140.6">S11</text></g>
<g id="S12"><rect class="b" x="311.9" y="75.5" width="62" height="64"/><text class="n" x="342.9" y="114.3">S12</text></g>
<g id="S13"><rect class="b" x="368.1" y="57.7" width="62" height="64"/><text class="n" x="399.1" y="96.5">S13</text></g>
<g id="S14"><rect class="b" x="426.1" y="48.6" width="62" height="64"/><text class="n" x="457.1" y="87.4">S14</text></g>
<g id="Str"><circle class="lv" cx="372.5" cy="418" r="50"/><text class="lt" x="372.5" y="429">Str</text></g>
<g id="Dpr"><circle class="lv" cx="600.5" cy="418" r="50"/><text class="lt" x="600.5" y="429">Dpr</text></g>
<g id="Anx"><circle class="lv" cx="486.5" cy="620" r="50"/><text class="lt" x="486.5" y="631">Anx</text></g>
</g>
</svg>
